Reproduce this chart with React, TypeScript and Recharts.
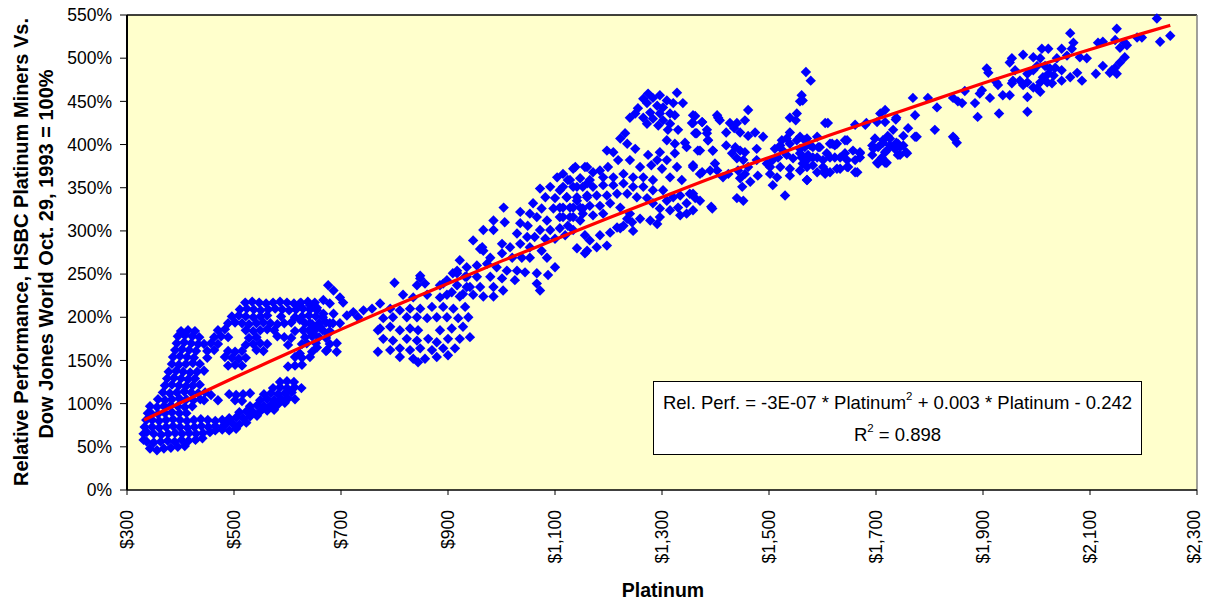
import { ScatterChart, Scatter, XAxis, YAxis, CartesianGrid, ReferenceLine } from 'recharts'

// platinum price ($/oz) vs relative performance (%)
const lowBlob: [number, number][] = [
  [343, 48], [356, 46], [369, 48], [382, 49], [395, 50], [408, 51],
  [331, 58], [337, 56], [350, 55], [363, 56], [376, 57], [389, 56], [402, 58], [415, 57], [428, 58], [441, 60],
  [331, 65], [337, 67], [350, 65], [364, 64], [377, 65], [390, 66], [403, 65], [416, 66], [429, 65], [442, 66], [455, 67],
  [333, 73], [347, 73], [360, 72], [373, 73], [386, 74], [399, 73], [413, 72], [426, 73], [439, 74], [452, 73], [465, 74], [478, 73],
  [336, 81], [347, 81], [360, 80], [373, 81], [386, 82], [399, 81], [412, 80], [425, 81], [438, 82], [451, 81], [465, 80], [478, 81], [491, 82],
  [339, 89], [345, 89], [358, 88], [371, 89], [384, 90], [398, 89], [411, 89],
  [343, 97], [356, 96], [369, 97], [382, 98], [395, 97], [408, 96], [422, 97],
  [358, 105], [371, 104], [384, 105], [398, 106], [411, 105], [424, 104], [437, 105],
]

const riseColumn: [number, number][] = [
  [367, 113], [380, 112], [393, 113], [407, 114], [420, 113], [433, 112], [446, 113],
  [371, 121], [384, 122], [397, 121], [410, 120], [423, 121], [436, 122],
  [375, 129], [388, 130], [401, 129], [414, 128], [427, 129],
  [378, 137], [392, 138], [405, 137], [418, 136], [431, 137], [444, 138],
  [384, 146], [397, 145], [410, 146], [423, 147], [436, 146],
  [386, 154], [399, 155], [412, 154], [425, 153],
  [390, 162], [403, 163], [416, 162], [429, 161],
  [393, 170], [407, 171], [420, 170], [433, 169],
  [395, 178], [408, 179], [422, 178], [435, 177],
  [401, 184], [414, 185], [427, 184],
  [444, 104], [457, 110], [470, 104],
]

const lowerBand: [number, number][] = [
  [465, 69], [478, 70], [491, 69], [504, 71],
  [484, 76], [497, 77], [510, 76], [523, 78],
  [491, 83], [504, 84], [517, 83], [530, 85], [543, 86],
  [510, 90], [523, 91], [536, 90], [549, 91], [562, 92], [575, 93],
  [530, 97], [543, 98], [556, 97], [569, 98], [582, 99], [595, 101],
  [502, 104], [515, 103], [549, 104], [562, 105], [575, 104], [588, 105], [601, 106], [614, 105],
  [491, 111], [504, 110], [517, 111], [530, 112], [556, 111], [569, 112], [582, 111], [595, 112], [608, 113],
  [573, 118], [586, 119], [599, 118], [613, 119], [626, 118],
  [586, 125], [599, 126], [612, 125],
]

const upperBand: [number, number][] = [
  [521, 217], [534, 218], [547, 217], [560, 216], [573, 217], [586, 218], [599, 217], [612, 216], [625, 217], [638, 218], [651, 217],
  [511, 209], [524, 210], [537, 209], [550, 208], [564, 209], [577, 210], [590, 209], [603, 208], [616, 209], [629, 210], [642, 209], [655, 208],
  [496, 201], [509, 202], [522, 201], [536, 200], [549, 201], [562, 202], [588, 201], [614, 200], [627, 201], [640, 202], [653, 201], [666, 200],
  [489, 193], [502, 194], [515, 193], [528, 192], [542, 193], [555, 194], [568, 193], [581, 192], [594, 193], [607, 194], [633, 193], [646, 192], [659, 193], [672, 194], [685, 193],
  [470, 185], [483, 186], [522, 185], [536, 184], [549, 185], [562, 186], [575, 185], [614, 184], [640, 185], [653, 186], [666, 185], [679, 184],
  [463, 177], [476, 178], [489, 177], [528, 176], [542, 177], [581, 178], [594, 177], [607, 176], [633, 177], [646, 178], [659, 177], [672, 176],
  [444, 169], [457, 170], [470, 169], [522, 168], [536, 169], [549, 170], [562, 169], [601, 168], [627, 169], [653, 170], [679, 169],
  [450, 161], [463, 162], [489, 161], [502, 160], [515, 161], [542, 162], [555, 161], [646, 160], [672, 161],
  [450, 153], [483, 154], [496, 153], [509, 152], [522, 153], [614, 154], [627, 153],
  [489, 144], [502, 145], [515, 144], [601, 143], [614, 144], [627, 145],
]

const crossingZone: [number, number][] = [
  [676, 237], [686, 231], [698, 223], [667, 220], [679, 216], [704, 217], [623, 216], [642, 214],
  [655, 211], [667, 204], [686, 204], [711, 202], [723, 206], [742, 208], [758, 210], [773, 216],
  [732, 200], [623, 197], [642, 193], [661, 189], [679, 193], [698, 193], [676, 181], [648, 181],
  [629, 185], [636, 170], [655, 165], [674, 162], [692, 170], [692, 160], [769, 185], [769, 160],
  [623, 158], [642, 154],
]

const dipCluster: [number, number][] = [
  [848, 248], [857, 239], [842, 237], [885, 237], [898, 243], [917, 251], [935, 247], [941, 235], [800, 240],
  [816, 226], [835, 223], [861, 226], [885, 223], [907, 229], [928, 227],
  [792, 210], [810, 208], [829, 210], [848, 210], [870, 212], [891, 212], [910, 210], [932, 212],
  [779, 199], [797, 200], [823, 200], [842, 200], [861, 199], [879, 200], [898, 200], [919, 199], [938, 200],
  [773, 187], [792, 189], [810, 185], [829, 187], [844, 185], [885, 185], [907, 187], [928, 189],
  [779, 175], [797, 173], [823, 175], [842, 173], [863, 175], [879, 171], [900, 175], [922, 175], [941, 177],
  [792, 162], [810, 164], [829, 162], [848, 164], [870, 162], [891, 164], [913, 164],
  [810, 154], [835, 152], [857, 152], [879, 154], [900, 156], [844, 148],
]

const climb: [number, number][] = [
  [1138, 374], [1156, 374], [1104, 362], [1124, 359], [1072, 349], [1091, 351], [1109, 347], [1141, 351], [1160, 355],
  [1082, 339], [1100, 338], [1122, 339], [1141, 335], [1160, 339],
  [1059, 332], [1075, 326], [1097, 326], [1115, 327], [1134, 327], [1152, 326],
  [1004, 327], [1035, 322], [1053, 320], [1066, 316], [1085, 312], [1109, 316], [1128, 316], [1147, 312],
  [985, 312], [1006, 310], [1035, 309], [1049, 306], [1072, 301], [1091, 301], [1109, 303], [1134, 301], [1156, 295],
  [966, 301], [985, 301], [1029, 297], [1048, 293], [1062, 293], [1082, 291], [1100, 291], [1119, 295], [1141, 280], [1156, 274],
  [947, 289], [964, 281], [1001, 285], [1016, 281], [1035, 285], [1053, 281], [1075, 277], [1085, 269], [1100, 258],
  [966, 277], [979, 269], [1001, 274], [1020, 269], [1038, 269], [1053, 269],
  [922, 266], [935, 258], [954, 260], [973, 262], [991, 258], [1010, 254], [1029, 254], [1044, 252], [1066, 251], [1087, 249],
  [909, 251], [932, 247], [954, 247], [979, 247], [1001, 245], [1025, 243],
  [891, 239], [917, 237], [935, 235], [960, 235], [985, 235], [1003, 231], [1066, 239], [1072, 231],
  [898, 226], [922, 224], [947, 226], [966, 224], [985, 224],
  [960, 279], [917, 254], [848, 245],
]

const peak: [number, number][] = [
  [1328, 460], [1274, 459], [1283, 454], [1296, 457], [1309, 451], [1265, 453], [1272, 448], [1291, 445], [1302, 443], [1321, 448], [1339, 448],
  [1255, 442], [1278, 437], [1296, 436], [1315, 436], [1240, 431], [1265, 431], [1283, 430], [1302, 428], [1324, 434], [1272, 424], [1293, 422], [1315, 424], [1250, 436],
  [1362, 433], [1403, 434], [1375, 426], [1356, 425], [1330, 417], [1311, 417],
  [1231, 413], [1222, 407], [1235, 401], [1309, 405], [1324, 401], [1343, 402], [1365, 413], [1384, 413], [1386, 405], [1395, 393], [1367, 393], [1324, 390], [1346, 397],
  [1209, 391], [1197, 393], [1250, 395], [1218, 382], [1240, 382], [1274, 388], [1296, 391], [1291, 382], [1309, 382],
  [1199, 374], [1259, 374], [1280, 376], [1300, 372], [1328, 374], [1358, 376], [1315, 362], [1337, 359], [1371, 366], [1399, 378], [1403, 370],
  [1134, 372], [1160, 374], [1171, 368], [1184, 370], [1115, 366], [1128, 359], [1147, 361], [1165, 359], [1190, 362], [1209, 362], [1228, 366], [1246, 362], [1265, 362], [1283, 359],
  [1115, 351], [1134, 351], [1152, 351], [1171, 351], [1190, 353], [1209, 353], [1228, 355], [1246, 351], [1265, 351], [1283, 347], [1302, 347],
  [1122, 339], [1141, 339], [1160, 341], [1178, 341], [1197, 341], [1216, 343], [1235, 343], [1253, 339], [1272, 338],
  [1109, 327], [1128, 327], [1147, 327], [1165, 329], [1184, 329], [1203, 332], [1222, 327],
  [1115, 316], [1134, 316], [1152, 320], [1171, 318], [1190, 320], [1124, 306], [1228, 306], [1240, 320],
]

const pullback: [number, number][] = [
  [1283, 332], [1296, 326], [1309, 335], [1321, 339], [1334, 341], [1352, 343], [1362, 338], [1346, 332], [1330, 327],
  [1315, 324], [1296, 316], [1278, 312], [1358, 324], [1346, 320], [1334, 318], [1394, 326], [1291, 308],
  [1160, 277], [1178, 281], [1197, 283], [1165, 289], [1184, 295], [1203, 298], [1222, 303], [1244, 310], [1259, 314],
  [1216, 304], [1235, 314], [1246, 300],
]

const plateau: [number, number][] = [
  [1558, 450], [1552, 436], [1539, 431], [1550, 428], [1461, 440], [1358, 434], [1375, 426], [1405, 431], [1408, 428], [1358, 425], [1427, 425], [1440, 425], [1455, 428],
  [1362, 413], [1384, 417], [1386, 405], [1420, 414], [1435, 419], [1446, 414], [1461, 410], [1474, 414], [1489, 409], [1539, 414], [1524, 405], [1533, 407], [1552, 405], [1567, 405], [1642, 405],
  [1371, 393], [1395, 393], [1420, 399], [1437, 397], [1446, 393], [1455, 391], [1477, 395], [1511, 395], [1521, 399], [1526, 393], [1539, 401], [1558, 395], [1577, 399], [1592, 397], [1614, 401], [1627, 401],
  [1431, 390], [1440, 384], [1452, 382], [1477, 382], [1496, 378], [1507, 382], [1517, 385], [1533, 388], [1545, 384], [1561, 385], [1571, 382], [1582, 385], [1601, 382], [1614, 385], [1633, 385], [1646, 382], [1661, 382], [1670, 390],
  [1661, 368], [1646, 374], [1627, 372], [1605, 370], [1590, 368], [1571, 374], [1558, 370], [1539, 372], [1521, 374], [1502, 374], [1502, 366], [1515, 362], [1539, 364], [1571, 359], [1507, 353], [1530, 341],
  [1455, 366], [1446, 361], [1461, 374], [1479, 364], [1465, 357], [1450, 351], [1440, 338], [1452, 335], [1442, 370], [1414, 362], [1424, 366], [1390, 370], [1375, 368], [1358, 374], [1358, 343], [1371, 335], [1392, 328],
  [1695, 395], [1702, 379], [1720, 393], [1680, 423], [1698, 407],
]

const shelf: [number, number][] = [
  [1569, 484], [1578, 474], [1561, 457], [1563, 451], [1605, 425], [1610, 425], [1558, 409], [1571, 407], [1590, 409], [1567, 397], [1582, 397], [1595, 397], [1618, 401], [1623, 399], [1646, 405],
  [1558, 390], [1573, 388], [1590, 385], [1608, 390], [1623, 385], [1642, 390], [1657, 393], [1670, 391], [1670, 385], [1693, 399], [1704, 397], [1713, 405], [1726, 407], [1738, 402], [1745, 397],
  [1563, 378], [1582, 376], [1601, 374], [1614, 368], [1633, 372], [1648, 374], [1665, 368], [1571, 359], [1605, 366], [1693, 388], [1704, 378], [1717, 379], [1741, 388], [1758, 390],
  [1760, 419], [1773, 409], [1702, 426], [1682, 425], [1717, 426], [1738, 431], [1708, 436], [1717, 440], [1661, 423],
  [1737, 429], [1732, 417], [1751, 410], [1722, 410], [1713, 402], [1726, 399], [1741, 401], [1751, 399], [1717, 391], [1735, 395], [1745, 388], [1756, 391], [1720, 379], [1711, 385],
]

const highRun: [number, number][] = [
  [2225, 546], [2150, 534], [2250, 526], [2231, 519], [2197, 524], [2188, 524], [2165, 518], [2169, 515], [2156, 512], [2147, 521], [2063, 529], [2124, 519], [2115, 518], [2069, 518], [2066, 511], [2047, 511],
  [2165, 501], [2156, 495], [2147, 489], [2141, 486], [2150, 482], [2137, 483], [2124, 491], [2111, 482], [2085, 474], [2076, 483], [2094, 500], [2081, 501], [2063, 478], [2047, 474], [2047, 486], [2057, 503],
  [2038, 500], [2022, 511], [2010, 511], [1994, 501], [1975, 504], [1954, 500], [1950, 495],
  [2007, 500], [2001, 491], [2016, 491], [2025, 488], [2035, 489], [1994, 486], [1983, 482], [2022, 482], [2032, 480], [2012, 478], [2020, 472], [2029, 471], [2007, 472],
  [2001, 465], [2007, 461], [1994, 466], [1983, 472], [1969, 474], [1975, 469], [1960, 486], [1956, 474], [1954, 471], [1950, 457], [1937, 457], [1983, 455], [1983, 438],
  [1928, 469], [1925, 472], [1907, 488], [1910, 483], [1894, 459], [1898, 463], [1913, 454], [1885, 448], [1890, 432], [1930, 436], [1866, 462], [1853, 450], [1861, 448], [1844, 454],
  [1851, 402], [1847, 407], [1814, 443], [1810, 417], [1797, 454], [1769, 454], [1773, 434], [1776, 409], [1844, 409],
]

// fitted trend line
const trendPlatinum = [332, 400, 500, 600, 700, 800, 900, 1000, 1100, 1200, 1300, 1400, 1500, 1600, 1700, 1800, 1900, 2000, 2100, 2200, 2250]
const trendRel = [81, 101, 130, 158, 186, 213, 239, 265, 290, 315, 339, 363, 385, 408, 429, 450, 471, 491, 510, 529, 538]

const platinumTicks = [300, 500, 700, 900, 1100, 1300, 1500, 1700, 1900, 2100, 2300]
const relTicks = [0, 50, 100, 150, 200, 250, 300, 350, 400, 450, 500, 550]

const FONT = '"Liberation Sans", Arial, sans-serif'

const points = [
  ...lowBlob, ...riseColumn, ...lowerBand, ...upperBand, ...crossingZone, ...dipCluster,
  ...climb, ...peak, ...pullback, ...plateau, ...shelf, ...highRun,
].map(([p, r]) => ({ p, r }))
const trend = trendPlatinum.map((p, i) => ({ p, r: trendRel[i] }))

function Diamond(props: any) {
  const { cx, cy } = props
  const h = 5.2
  return <path d={`M${cx},${cy - h}L${cx + h},${cy}L${cx},${cy + h}L${cx - h},${cy}Z`} fill="#0000FF" />
}

function PriceTick(props: any) {
  const { x, y, payload } = props
  return (
    <text
      transform={`translate(${x},${y}) rotate(-90)`}
      textAnchor="end"
      dy="0.35em"
      fontSize={17.5}
      fontFamily={FONT}
      fill="#000"
    >
      {'$' + payload.value.toLocaleString('en-US')}
    </text>
  )
}

export default function App() {
  return (
    <div style={{ position: 'absolute', left: 0, top: 0, width: 1210, height: 602, fontFamily: FONT, background: '#fff' }}>
      <ScatterChart width={1210} height={602} margin={{ top: 15, right: 13, bottom: 0, left: 0 }}>
        <CartesianGrid horizontal={false} vertical={false} fill="#FFFFCC" stroke="none" />
        <XAxis
          type="number"
          dataKey="p"
          domain={[300, 2300]}
          ticks={platinumTicks}
          height={112}
          tickSize={5}
          tickMargin={15}
          tick={<PriceTick />}
          axisLine={{ stroke: '#000', strokeWidth: 1.5 }}
          tickLine={{ stroke: '#000' }}
        />
        <YAxis
          type="number"
          dataKey="r"
          domain={[0, 550]}
          ticks={relTicks}
          width={127}
          tickSize={7}
          tickMargin={8}
          tickFormatter={(v: number) => `${v}%`}
          tick={{ fontSize: 17.5, fill: '#000', fontFamily: FONT }}
          axisLine={{ stroke: '#000', strokeWidth: 2 }}
          tickLine={{ stroke: '#000' }}
        />
        <ReferenceLine y={550} stroke="#000" strokeWidth={1.5} />
        <ReferenceLine x={2300} stroke="#808080" strokeWidth={1.5} />
        <Scatter data={points} shape={<Diamond />} isAnimationActive={false} />
        <Scatter
          data={trend}
          shape={() => <g />}
          line={{ stroke: '#FF0000', strokeWidth: 3.2 }}
          lineJointType="monotoneX"
          isAnimationActive={false}
        />
      </ScatterChart>
      <svg width={1210} height={602} style={{ position: 'absolute', left: 0, top: 0, pointerEvents: 'none' }}>
        <text
          transform="translate(21,252) rotate(-90)"
          textAnchor="middle"
          dy="0.35em"
          fontSize={20}
          fontWeight="bold"
          fontFamily={FONT}
        >
          Relative Performance, HSBC Platinum Miners Vs.
        </text>
        <text
          transform="translate(46,254) rotate(-90)"
          textAnchor="middle"
          dy="0.35em"
          fontSize={20}
          fontWeight="bold"
          fontFamily={FONT}
        >
          Dow Jones World Oct. 29, 1993 = 100%
        </text>
        <text x={663} y={590} textAnchor="middle" dy="0.35em" fontSize={19.5} fontWeight="bold" fontFamily={FONT}>
          Platinum
        </text>
      </svg>
      <div
        style={{
          position: 'absolute',
          left: 653,
          top: 381,
          width: 487,
          height: 66,
          border: '1px solid #000',
          background: '#fff',
          fontSize: 18.5,
          lineHeight: '30px',
          paddingTop: 6,
          boxSizing: 'content-box',
          textAlign: 'center',
          color: '#000',
        }}
      >
        <div style={{ whiteSpace: 'nowrap' }}>
          Rel. Perf. = -3E-07 * Platinum
          <span style={{ fontSize: '0.62em', position: 'relative', top: '-0.75em' }}>2</span> + 0.003 * Platinum - 0.242
        </div>
        <div>
          R<span style={{ fontSize: '0.62em', position: 'relative', top: '-0.75em' }}>2</span> = 0.898
        </div>
      </div>
    </div>
  )
}
